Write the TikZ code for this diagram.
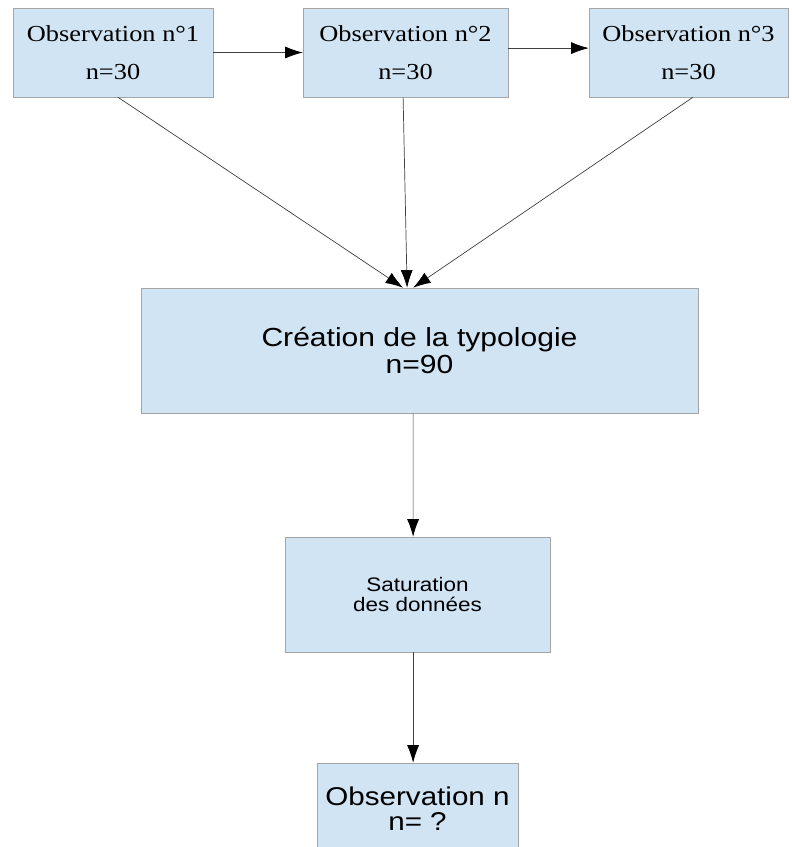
\documentclass[tikz,border=0pt]{standalone}
\usepackage{fontspec}
\setmainfont{Liberation Serif}[FakeStretch=1.15]
\setsansfont{Liberation Sans}[FakeStretch=1.15]
\usetikzlibrary{arrows.meta}
\definecolor{boxblue}{RGB}{208,228,243}
\definecolor{boxedge}{RGB}{165,165,165}

\begin{document}
\begin{tikzpicture}[x=0.25mm,y=-0.25mm,
        etape/.style={draw=boxedge, fill=boxblue, inner sep=0pt, align=center},
        fleche/.style={draw=black!75, line width=0.5pt, -{Latex[length=4.4mm,width=3mm,black]}}]
        \useasboundingbox (0,0) rectangle (791,847);
        \clip (0,0) rectangle (791,847);
        % Draw the three first observations
        \node[etape, minimum width=50mm, minimum height=22.25mm, font=\fontsize{16.3}{27}\selectfont] (obs1) at (113,52.5) {Observation n°1\\n=30};
        \node[etape, minimum width=51.25mm, minimum height=22.25mm, font=\fontsize{16.3}{27}\selectfont] (obs2) at (405.5,52.5) {Observation n°2\\n=30};
        \node[etape, minimum width=49.75mm, minimum height=22.25mm, font=\fontsize{16.3}{27}\selectfont] (obs3) at (688.5,52.5) {Observation n°3\\n=30};
        % Typology, saturation, next observation
        \node[etape, minimum width=139.25mm, minimum height=31.25mm, font=\sffamily\fontsize{18.6}{19.2}\selectfont] (crea) at (419.5,350.5) {Création de la typologie\\n=90};
        \node[etape, minimum width=66.25mm, minimum height=28.75mm, font=\sffamily\fontsize{13.9}{14.7}\selectfont] (sat) at (417.5,594.5) {Saturation\\des données};
        \node[etape, minimum width=50.25mm, minimum height=22.75mm, font=\sffamily\fontsize{18.3}{17.8}\selectfont] (obsn) at (417.5,808.5) {Observation n\\n= ?};
        % Arrows
        \draw[fleche] (obs1.east) -- (obs2.west);
        \draw[fleche] ([yshift=1.1mm]obs2.east) -- ([yshift=1.1mm]obs3.west);
        \draw[fleche] ([xshift=1.25mm]obs1.south) -- ([xshift=-4.1mm]crea.north);
        \draw[fleche] ([xshift=-0.6mm]obs2.south) -- ([xshift=-3.1mm]crea.north);
        \draw[fleche] ([xshift=1.1mm]obs3.south) -- ([xshift=-1.6mm]crea.north);
        \draw[fleche] ([xshift=-1.6mm]crea.south) -- ([xshift=-1.1mm]sat.north);
        \draw[fleche] ([xshift=-1.1mm]sat.south) -- ([xshift=-1.1mm]obsn.north);
\end{tikzpicture}
\end{document}
